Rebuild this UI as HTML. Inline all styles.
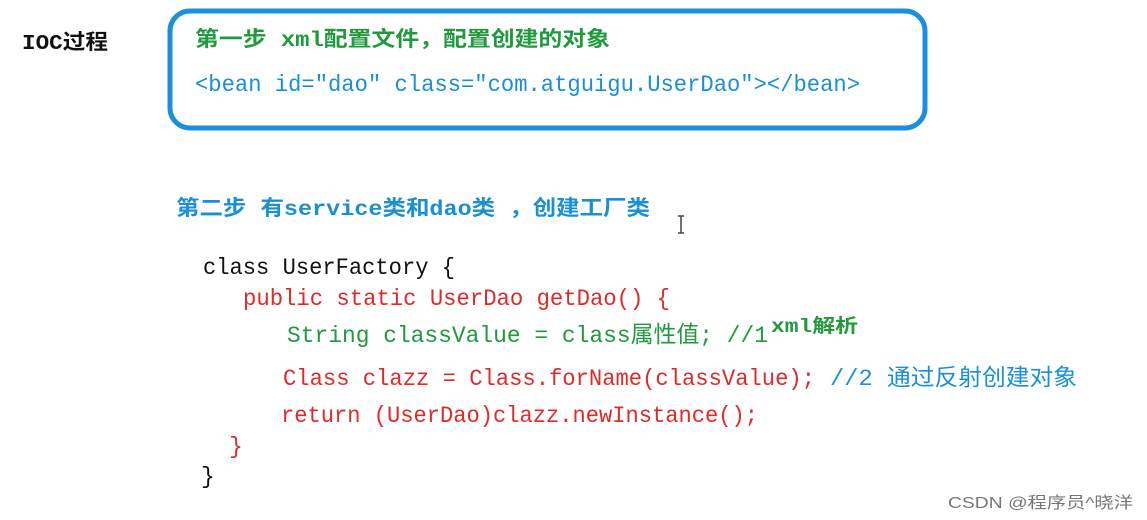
<!DOCTYPE html>
<html><head><meta charset="utf-8"><style>
html,body{margin:0;padding:0;background:#fff;width:1147px;height:520px;overflow:hidden}
svg text{font-family:"Liberation Mono","Noto Sans CJK SC",monospace;}
.c{font-family:"Liberation Sans","Noto Sans CJK SC",sans-serif}
</style></head><body>
<svg width="1147" height="520" xmlns="http://www.w3.org/2000/svg">
<rect x="170" y="11" width="755" height="117" rx="20" ry="20" fill="none" stroke="#1a8fe0" stroke-width="5"/>
<text x="22" y="49" font-size="21" font-weight="bold" fill="#111" textLength="86" lengthAdjust="spacingAndGlyphs">IOC过程</text>
<text x="195" y="46" font-size="21" font-weight="bold" fill="#1f9a3c" textLength="415" lengthAdjust="spacingAndGlyphs">第一步 xml配置文件，配置创建的对象</text>
<text x="195" y="91" font-size="23" fill="#1a8fd8" textLength="665" lengthAdjust="spacingAndGlyphs">&lt;bean id="dao" class="com.atguigu.UserDao"&gt;&lt;/bean&gt;</text>
<text x="176" y="215" font-size="21" font-weight="bold" fill="#1a8fd8" textLength="474" lengthAdjust="spacingAndGlyphs">第二步 有service类和dao类 ，创建工厂类</text>
<line x1="681" y1="216" x2="681" y2="233" stroke="#444" stroke-width="1.5"/>
<line x1="678" y1="216" x2="684" y2="216" stroke="#444" stroke-width="1.5"/>
<line x1="678" y1="233" x2="684" y2="233" stroke="#444" stroke-width="1.5"/>
<text x="203" y="274" font-size="23" fill="#111" textLength="252" lengthAdjust="spacingAndGlyphs">class UserFactory {</text>
<text x="243" y="305" font-size="23" fill="#e02a2a" textLength="427" lengthAdjust="spacingAndGlyphs">public static UserDao getDao() {</text>
<text x="287" y="342" font-size="23" fill="#1f9a3c" textLength="481" lengthAdjust="spacingAndGlyphs">String classValue = class属性值; //1</text>
<text x="771" y="332" font-size="19" font-weight="bold" fill="#1f9a3c" textLength="87" lengthAdjust="spacingAndGlyphs">xml解析</text>
<text x="283" y="385" font-size="23" fill="#e02a2a" textLength="532" lengthAdjust="spacingAndGlyphs">Class clazz = Class.forName(classValue);</text>
<text x="830" y="385" font-size="23" fill="#1a8fd8" textLength="247" lengthAdjust="spacingAndGlyphs">//2 通过反射创建对象</text>
<text x="281" y="422" font-size="23" fill="#e02a2a" textLength="477" lengthAdjust="spacingAndGlyphs">return (UserDao)clazz.newInstance();</text>
<text x="229" y="453" font-size="23" fill="#e02a2a">}</text>
<text x="201" y="483" font-size="23" fill="#111">}</text>
<text class="c" x="948" y="508" font-size="16" fill="#777" textLength="185" lengthAdjust="spacingAndGlyphs">CSDN @程序员^晓洋</text>
</svg>
</body></html>
